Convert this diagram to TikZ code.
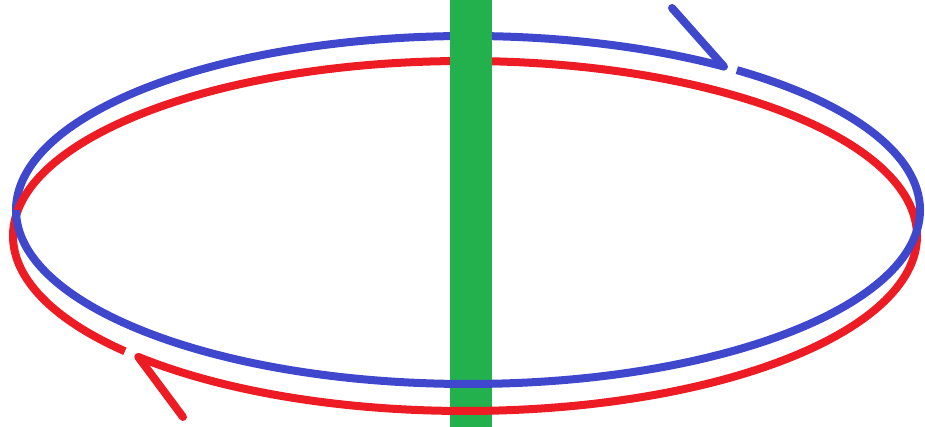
\documentclass[tikz,border=0pt]{standalone}
\definecolor{spirablu}{HTML}{3F48CC}
\definecolor{spirarossa}{HTML}{ED1C24}
\definecolor{filoverde}{HTML}{22B14C}
\begin{document}
\begin{tikzpicture}[x=0.5pt,y=0.5pt,
        blu/.style={line width=4pt,spirablu},
        rosso/.style={line width=4pt,spirarossa}]
        \useasboundingbox (0,0) rectangle (925,427);
        \coordinate (CB) at (468,217);
        \coordinate (CR) at (465,191);
        \coordinate (FB) at (672,419);
        \coordinate (FR) at (183,10);
        % meta' posteriori delle due spire, dietro al filo
        \draw[blu] (CB) ++(0:452 and 174) arc[start angle=0,end angle=53.5,x radius=452,y radius=174];
        \draw[blu] (CB) ++(55.5:452 and 174) coordinate (PB) arc[start angle=55.5,end angle=180,x radius=452,y radius=174];
        \draw[rosso] (CR) ++(0:452 and 175) arc[start angle=0,end angle=180,x radius=452,y radius=175];
        % il filo
        \fill[filoverde] (450,0) rectangle (492,427);
        % meta' anteriori, davanti al filo
        \draw[rosso] (CR) ++(180:452 and 175) arc[start angle=180,end angle=221.2,x radius=452,y radius=175];
        \draw[rosso] (CR) ++(223.7:452 and 175) coordinate (PR) arc[start angle=223.7,end angle=360,x radius=452,y radius=175];
        \draw[blu] (CB) ++(180:452 and 174) arc[start angle=180,end angle=360,x radius=452,y radius=174];
        % versi di percorrenza
        \draw[blu,line cap=round] (PB) -- (FB);
        \draw[rosso,line cap=round] (PR) -- (FR);
\end{tikzpicture}
\end{document}
